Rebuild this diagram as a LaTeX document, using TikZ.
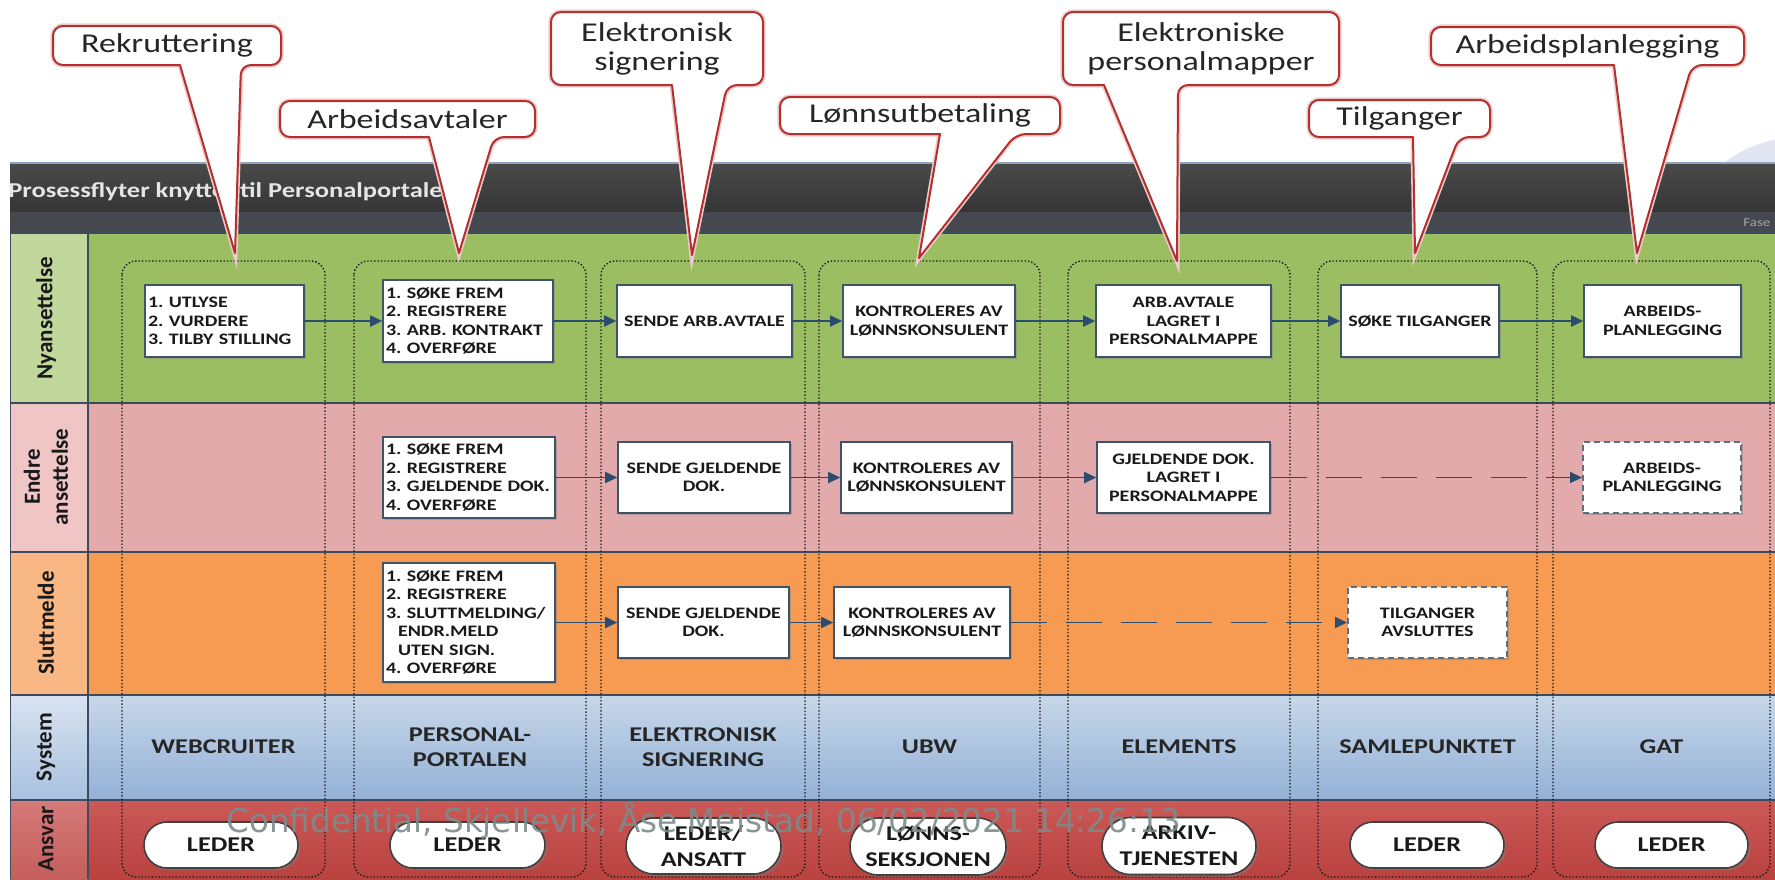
\documentclass[tikz,border=0pt]{standalone}
\usepackage{fontspec}
\setmainfont{Carlito}
\newfontfamily\widefont{Carlito}[FakeStretch=1.25]
\newfontfamily\markfont{DejaVu Sans}
\usetikzlibrary{arrows.meta,shadows,shapes.misc}
\frenchspacing

\definecolor{nyfill}{HTML}{9BBE63}
\definecolor{nyleft}{HTML}{C2D79C}
\definecolor{enfill}{HTML}{E2AAAA}
\definecolor{enleft}{HTML}{EFC5C5}
\definecolor{slfill}{HTML}{F79B52}
\definecolor{slleft}{HTML}{F9B784}
\definecolor{sytop}{HTML}{C7D7EA}
\definecolor{sybot}{HTML}{93B1D6}
\definecolor{antop}{HTML}{CB5957}
\definecolor{anbot}{HTML}{B9423F}
\definecolor{rowline}{HTML}{3D4B5C}
\definecolor{flowc}{HTML}{2B4C6F}
\definecolor{boxline}{HTML}{3F5468}
\definecolor{calred}{HTML}{B3302E}
\definecolor{headtop}{HTML}{4A4A4A}
\definecolor{headbot}{HTML}{353535}
\definecolor{stripc}{HTML}{45494F}
\definecolor{headedge}{HTML}{8EA3BD}
\definecolor{circc}{HTML}{E2E6F2}
\definecolor{markc}{HTML}{7D8B8B}

\tikzset{
  stepbox/.style={draw=boxline, line width=0.8pt, fill=white, inner sep=1.5pt, align=center,
    drop shadow={shadow xshift=1.2pt, shadow yshift=-1.2pt, opacity=0.45},
    font=\widefont\bfseries\fontsize{8}{9.2}\selectfont, text=black!90},
  listbox/.style={stepbox, align=left},
  maybebox/.style={stepbox, draw=boxline!85, line width=1pt, dash pattern=on 3pt off 2pt},
  flow/.style={draw=flowc, line width=0.9pt, -{Triangle[length=6pt,width=5.5pt]}},
  maybeflow/.style={flow, dash pattern=on 18pt off 9.5pt},
  group/.style={draw=black!90, densely dotted, line width=0.7pt, rounded corners=7pt},
  rowlabel/.style={rotate=90, align=center, text=black!90, font=\bfseries\fontsize{11.5}{14}\selectfont},
  sysname/.style={align=center, text=black!85, font=\widefont\bfseries\fontsize{10.5}{12.5}\selectfont},
  role/.style={rounded rectangle, draw=black!75, line width=0.8pt, fill=white, align=center, inner sep=1pt,
    drop shadow={shadow xshift=1.2pt, shadow yshift=-1.2pt, opacity=0.45},
    text=black!90, font=\widefont\bfseries\fontsize{10.5}{13}\selectfont},
  callout/.style={fill=white, draw=calred, line width=1pt, line join=round,
    preaction={draw=calred!25, line width=2.6pt}},
  calltext/.style={align=center, text=black!85, font=\widefont\fontsize{13.6}{14.5}\selectfont}
}

\begin{document}
\begin{tikzpicture}[x=0.5pt,y=-0.5pt]
\useasboundingbox (0,0) rectangle (1775,879);
\clip (0,0) rectangle (1775,879);

% header band
\fill[circc] (1800,262) circle[radius=125];
\shade[top color=headtop, bottom color=headbot] (10,163) rectangle (1775,212);
\fill[stripc] (10,212) rectangle (1775,233);
\draw[headedge, line width=0.6pt] (10,163) -- (1775,163);
\node[anchor=base west, inner sep=0, text=white!90!black, font=\widefont\bfseries\fontsize{10.6}{12}\selectfont] (title) at (8,197) {Prosessflyter knyttet til Personalportalen};
\node[anchor=west, inner sep=0, text=black!35, font=\widefont\fontsize{6}{7}\selectfont] (fase) at (1743,223) {Fase};

% lanes
\fill[nyfill] (88,233) rectangle (1775,403);
\fill[nyleft] (10,233) rectangle (88,403);
\fill[enfill] (88,403) rectangle (1775,552);
\fill[enleft] (10,403) rectangle (88,552);
\fill[slfill] (88,552) rectangle (1775,695);
\fill[slleft] (10,552) rectangle (88,695);
\shade[top color=sytop, bottom color=sybot] (88,695) rectangle (1775,800);
\shade[top color=sytop!70!white, bottom color=sybot!80!white] (10,695) rectangle (88,800);
\shade[top color=antop, bottom color=anbot] (88,800) rectangle (1775,879);
\shade[top color=antop!80!white, bottom color=anbot!85!white] (10,800) rectangle (88,879);
\foreach \y in {233,403,552,695,800}
  \draw[rowline, line width=1pt] (10,\y) -- (1775,\y);
\draw[rowline, line width=1pt] (88,233) -- (88,879);
\draw[rowline, line width=0.5pt] (10,233) -- (10,879);

\node[rowlabel] (lny) at (46,318) {Nyansettelse};
\node[rowlabel] (len) at (46,477) {Endre\\ansettelse};
\node[rowlabel] (lsl) at (46,623) {Sluttmelde};
\node[rowlabel] (lsy) at (46,747) {System};
\node[rowlabel] (lan) at (46,839) {Ansvar};

% columns
\foreach \l/\r in {122/325, 354/586, 601/805, 819/1040, 1068/1290, 1318/1537, 1553/1770}
  \draw[group] (\l,261) rectangle (\r,877);

% Nyansettelse
\node[listbox, text width=76.5pt, minimum height=36pt] (b11) at (224.5,321) {1. UTLYSE\\2. VURDERE\\3. TILBY STILLING};
\node[listbox, text width=82pt, minimum height=41pt] (b12) at (468,321) {1. SØKE FREM\\2. REGISTRERE\\3. ARB. KONTRAKT\\4. OVERFØRE};
\node[stepbox, minimum width=87.5pt, minimum height=36pt] (b13) at (704.5,321) {SENDE ARB.AVTALE};
\node[stepbox, minimum width=86pt, minimum height=36pt] (b14) at (929,321) {KONTROLERES AV\\LØNNSKONSULENT};
\node[stepbox, minimum width=87.5pt, minimum height=36pt] (b15) at (1183.5,321) {ARB.AVTALE\\LAGRET I\\PERSONALMAPPE};
\node[stepbox, minimum width=79pt, minimum height=36pt] (b16) at (1420,321) {SØKE TILGANGER};
\node[stepbox, minimum width=78.5pt, minimum height=36pt] (b17) at (1662.5,321) {ARBEIDS-\\PLANLEGGING};
\draw[flow] (b11) -- (b12);
\draw[flow] (b12) -- (b13);
\draw[flow] (b13) -- (b14);
\draw[flow] (b14) -- (b15);
\draw[flow] (b15) -- (b16);
\draw[flow] (b16) -- (b17);

% Endre ansettelse
\node[listbox, text width=83pt, minimum height=40.5pt] (b22) at (469,477.5) {1. SØKE FREM\\2. REGISTRERE\\3. GJELDENDE DOK.\\4. OVERFØRE};
\node[stepbox, minimum width=86pt, minimum height=35.5pt] (b23) at (704,477.5) {SENDE GJELDENDE\\DOK.};
\node[stepbox, minimum width=85.5pt, minimum height=35.5pt] (b24) at (926.5,477.5) {KONTROLERES AV\\LØNNSKONSULENT};
\node[stepbox, minimum width=86.5pt, minimum height=35.5pt] (b25) at (1183.5,477.5) {GJELDENDE DOK.\\LAGRET I\\PERSONALMAPPE};
\node[maybebox, minimum width=79pt, minimum height=35.5pt] (b27) at (1662,477.5) {ARBEIDS-\\PLANLEGGING};
\draw[flow] (b22) -- (b23);
\draw[flow] (b23) -- (b24);
\draw[flow] (b24) -- (b25);
\draw[maybeflow] (b25) -- (b27);

% Sluttmelde
\node[listbox, text width=83pt, minimum height=59.5pt] (b32) at (469,622.5) {1. SØKE FREM\\2. REGISTRERE\\3. SLUTTMELDING/\\\hspace*{6pt}ENDR.MELD\\\hspace*{6pt}UTEN SIGN.\\4. OVERFØRE};
\node[stepbox, minimum width=85.5pt, minimum height=35.5pt] (b33) at (703.5,622.5) {SENDE GJELDENDE\\DOK.};
\node[stepbox, minimum width=88pt, minimum height=35.5pt] (b34) at (922,622.5) {KONTROLERES AV\\LØNNSKONSULENT};
\node[maybebox, minimum width=79.5pt, minimum height=35.5pt] (b36) at (1427.5,622.5) {TILGANGER\\AVSLUTTES};
\draw[flow] (b32) -- (b33);
\draw[flow] (b33) -- (b34);
\draw[maybeflow] (b34) -- (b36);

% System
\node[sysname] (s1) at (223.5,747) {WEBCRUITER};
\node[sysname] (s2) at (470,747) {PERSONAL-\\PORTALEN};
\node[sysname] (s3) at (703,747) {ELEKTRONISK\\SIGNERING};
\node[sysname] (s4) at (929.5,747) {UBW};
\node[sysname] (s5) at (1179,747) {ELEMENTS};
\node[sysname] (s6) at (1427.5,747) {SAMLEPUNKTET};
\node[sysname] (s7) at (1661.5,747) {GAT};

% Ansvar
\node[role, minimum width=79pt, minimum height=23pt] (r1) at (221,845) {LEDER};
\node[role, minimum width=79.5pt, minimum height=23pt] (r2) at (467.5,845) {LEDER};
\node[role, minimum width=79.5pt, minimum height=28pt] (r3) at (703.5,846) {LEDER/\\ANSATT};
\node[role, minimum width=80pt, minimum height=28.5pt] (r4) at (928,846.5) {LØNNS-\\SEKSJONEN};
\node[role, minimum width=79pt, minimum height=28.5pt] (r5) at (1179,846) {ARKIV-\\TJENESTEN};
\node[role, minimum width=79pt, minimum height=23pt] (r6) at (1427,845) {LEDER};
\node[role, minimum width=78.5pt, minimum height=23pt] (r7) at (1671.5,845) {LEDER};

% callouts
\draw[callout] (167,26) [rounded corners=5pt] -- (281,26) -- (281,65) -- (241,65) [sharp corners] -- (235,253) -- (180,65) -- (179,65) [rounded corners=5pt] -- (53,65) -- (53,26) -- cycle;
\node[calltext] (rekr) at (167,45.5) {Rekruttering};
\draw[callout] (407,101) [rounded corners=5pt] -- (535,101) -- (535,137) -- (494,137) [sharp corners] -- (459,253) -- (429,137) -- (428,137) [rounded corners=5pt] -- (280,137) -- (280,101) -- cycle;
\node[calltext] (avtal) at (407.5,119) {Arbeidsavtaler};
\draw[callout] (657,12) [rounded corners=5pt] -- (763,12) -- (763,85) -- (727,85) [sharp corners] -- (692,255) -- (672,85) -- (671,85) [rounded corners=5pt] -- (551,85) -- (551,12) -- cycle;
\node[calltext] (signr) at (657,48.5) {Elektronisk\\signering};
\draw[callout] (920,97) [rounded corners=5pt] -- (1060,97) -- (1060,134) -- (1016,134) [sharp corners] -- (919,258) -- (940,134) -- (939,134) [rounded corners=5pt] -- (780,134) -- (780,97) -- cycle;
\node[calltext] (lonn) at (920,115.5) {Lønnsutbetaling};
\draw[callout] (1201,12) [rounded corners=5pt] -- (1339,12) -- (1339,85) -- (1178,85) [sharp corners] -- (1177,261) -- (1104,85) -- (1103,85) [rounded corners=5pt] -- (1063,85) -- (1063,12) -- cycle;
\node[calltext] (mappe) at (1201,48.5) {Elektroniske\\personalmapper};
\draw[callout] (1399,100) [rounded corners=5pt] -- (1490,100) -- (1490,137) -- (1459,137) [sharp corners] -- (1415,253) -- (1413,137) -- (1412,137) [rounded corners=5pt] -- (1309,137) -- (1309,100) -- cycle;
\node[calltext] (tilg) at (1399.5,118.5) {Tilganger};
\draw[callout] (1587,27) [rounded corners=5pt] -- (1744,27) -- (1744,65) -- (1692,65) [sharp corners] -- (1637,253) -- (1614,65) -- (1613,65) [rounded corners=5pt] -- (1431,65) -- (1431,27) -- cycle;
\node[calltext] (plan) at (1587.5,46) {Arbeidsplanlegging};

% watermark
\node[anchor=base west, inner sep=0, text=markc, opacity=0.9, font=\markfont\fontsize{16.3}{18}\selectfont] (mark) at (226,832) {Confidential, Skjellevik, Åse Meistad, 06/02/2021 14:26:13};
\end{tikzpicture}
\end{document}
